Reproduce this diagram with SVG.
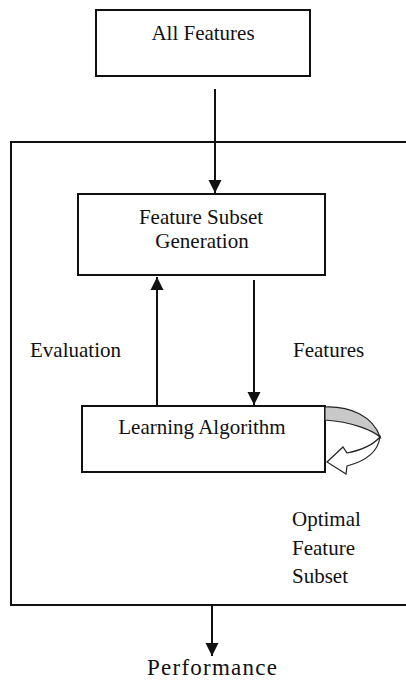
<svg xmlns="http://www.w3.org/2000/svg" width="406" height="680" viewBox="0 0 406 680">
<style>
.box{fill:#fff;stroke:#111;stroke-width:2}
.ln{fill:none;stroke:#111;stroke-width:2}
.t{font-family:"Liberation Serif","Times New Roman",serif;font-size:21px;fill:#111}
.c{text-anchor:middle}
</style>
<defs>
<marker id="ah" markerUnits="userSpaceOnUse" markerWidth="14" markerHeight="14" viewBox="0 0 14 14" refX="13" refY="7" orient="auto">
<path d="M0,0.5 L13,7 L0,13.5 Z" fill="#111"/>
</marker>
</defs>
<rect width="406" height="680" fill="#fff"/>
<g id="frame"><path class="ln" d="M407,142 H11 V605 H407"/></g>
<g id="all-features"><rect class="box" x="96" y="10" width="214" height="66"/><text class="t c" x="203" y="40">All Features</text></g>
<g id="fsg"><rect class="box" x="78" y="194" width="247" height="81"/><text class="t c" x="201" y="224">Feature Subset</text><text class="t c" x="202" y="248">Generation</text></g>
<g id="learning"><rect class="box" x="82" y="406" width="243" height="66"/><text class="t c" x="202" y="434">Learning Algorithm</text></g>
<g id="performance"><text class="t c" x="212" y="675" style="font-size:23px" textLength="130" lengthAdjust="spacing">Performance</text></g>
<g id="connectors">
<line class="ln" x1="215" y1="89" x2="215" y2="193" marker-end="url(#ah)"/>
<line class="ln" x1="157" y1="406" x2="157" y2="277" marker-end="url(#ah)"/>
<line class="ln" x1="254" y1="280" x2="254" y2="405" marker-end="url(#ah)"/>
<line class="ln" x1="212" y1="605" x2="212" y2="656" marker-end="url(#ah)"/>
<path d="M325,407 C350,406 373,416 380,437 C372,430 352,422 325,420 Z" fill="#c8c8c8" stroke="#222" stroke-width="1.2"/>
<path d="M380,437 C378,452 366,461 347,466 L346,474 L327,462 L343,447 L347,453 C362,450 373,445 380,437 Z" fill="#fff" stroke="#222" stroke-width="1.2"/>
</g>
<g id="labels">
<text class="t" x="30" y="357">Evaluation</text>
<text class="t" x="293" y="357">Features</text>
<text class="t" x="292" y="526">Optimal</text>
<text class="t" x="292" y="555">Feature</text>
<text class="t" x="292" y="583">Subset</text>
</g>
</svg>
